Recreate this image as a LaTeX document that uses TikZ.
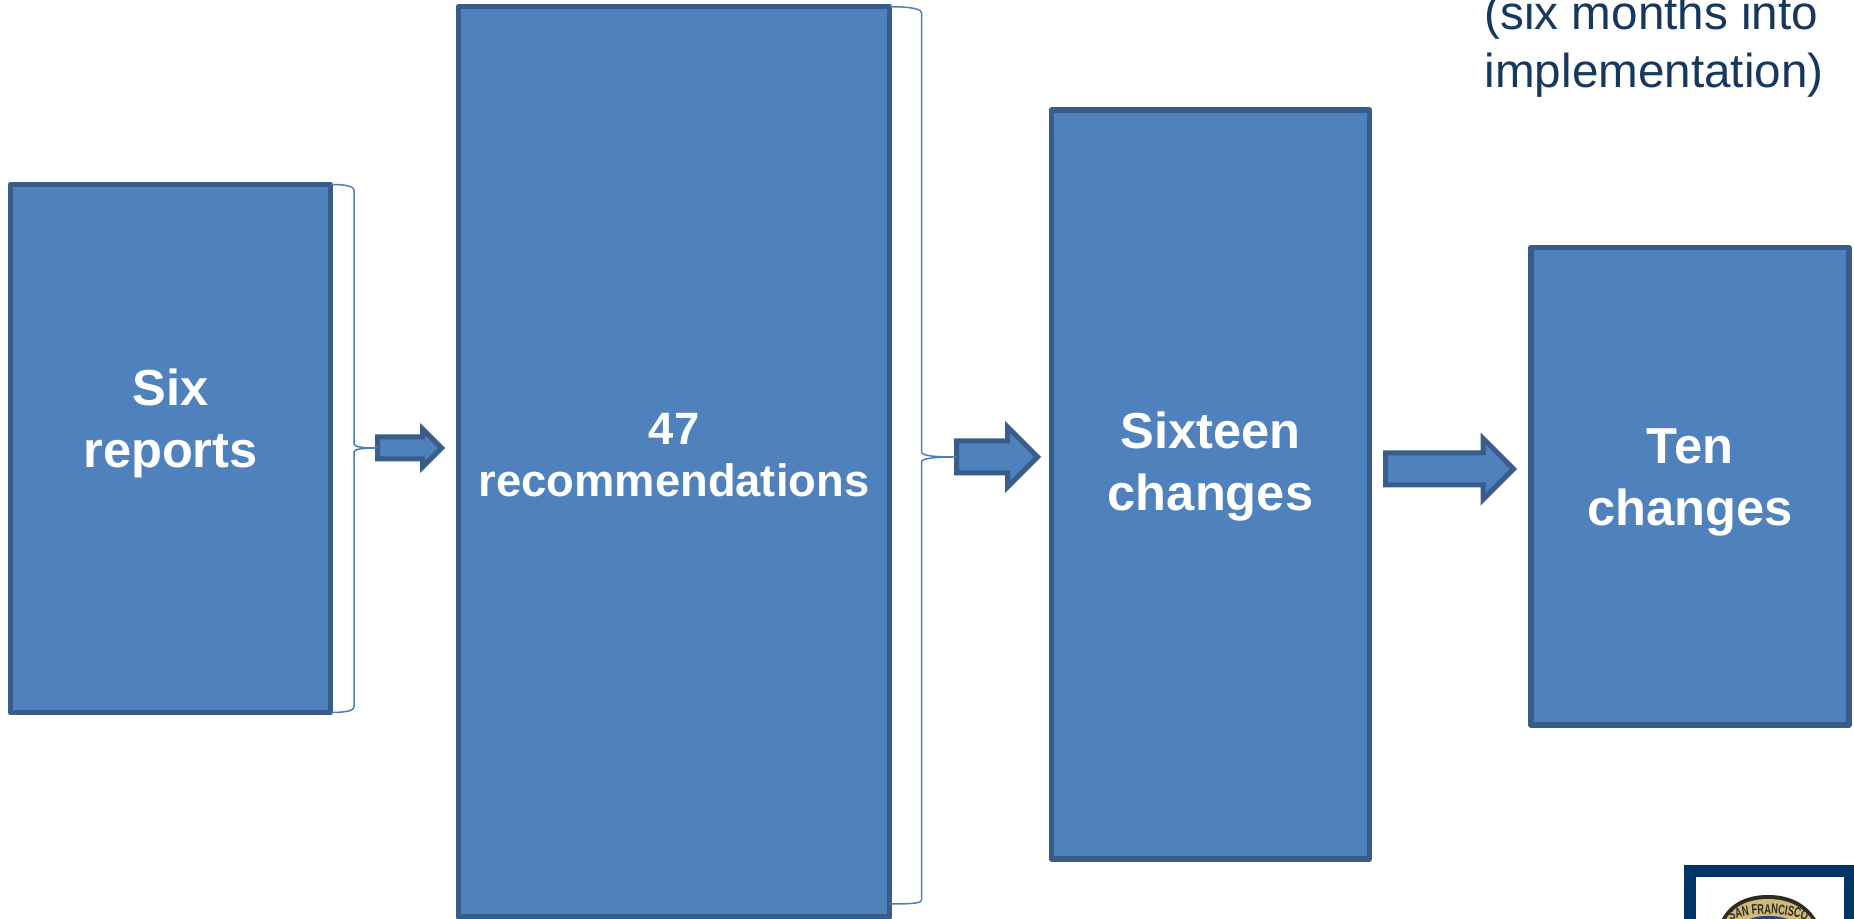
\documentclass[tikz,border=0pt]{standalone}
\usepackage{fontspec}
\setmainfont{Liberation Sans}
\newfontfamily\badgefont[FakeStretch=0.66]{Liberation Sans Bold}
\usetikzlibrary{shapes.arrows, decorations.text}
\definecolor{boxfill}{HTML}{4F81BD}
\definecolor{boxline}{HTML}{385D8A}
\definecolor{bracketline}{HTML}{4A7EBB}
\definecolor{notetext}{HTML}{17375E}
\definecolor{logoframe}{HTML}{003366}
\definecolor{badgedark}{HTML}{2E2B22}
\definecolor{badgetan}{HTML}{CDBB7C}
\definecolor{badgeblue}{HTML}{2F4177}
\tikzstyle{stage} = [rectangle, minimum width=3.18cm, text centered, align=center, inner sep=0pt, outer sep=0pt, draw=boxline, line width=0.55mm, line join=round, fill=boxfill, text=white, font=\fontsize{14.4}{17.6}\selectfont\bfseries]
\tikzstyle{blockarrow} = [single arrow, single arrow tip angle=90, anchor=west, inner xsep=0pt, outer sep=0pt, draw=boxline, line width=0.5mm, fill=boxfill]
\tikzstyle{bracket} = [draw=bracketline, line width=0.15mm]

\begin{document}
\begin{tikzpicture}[node distance=5cm]
\clip (0,0) rectangle (18.54,9.19);

%% NODES

\node (reports) [stage, minimum width=3.2cm, minimum height=5.28cm] at (1.705,4.705) {Six\\reports\\[-0.015cm]\mbox{}};
\node (recs) [stage, minimum width=4.31cm, minimum height=9.105cm, font=\fontsize{12.9}{17.3}\selectfont\bfseries, right of=reports, node distance=5.035cm, yshift=-0.135cm] {47\\[-0.09cm]recommendations\\[-0.47cm]\mbox{}};
\node (sixteen) [stage, minimum height=7.49cm, right of=recs, node distance=5.365cm, yshift=-0.225cm] {Sixteen\\changes\\[-0.15cm]\mbox{}};
\node (ten) [stage, minimum height=4.775cm, right of=sixteen, node distance=4.795cm, yshift=-0.02cm] {Ten\\changes\\[-0.435cm]\mbox{}};

\node (arrowa) [blockarrow, minimum height=0.64cm, inner ysep=0.085cm, single arrow head extend=0.08cm] at (3.775,4.71) {};
\node (arrowb) [blockarrow, minimum height=0.81cm, inner ysep=0.135cm, single arrow head extend=0.14cm] at (9.565,4.62) {};
\node (arrowc) [blockarrow, minimum height=1.28cm, inner ysep=0.135cm, single arrow head extend=0.145cm] at (13.855,4.50) {};

\node (note) [anchor=north west, align=left, inner sep=0pt, text=notetext, font=\fontsize{13.55}{16.5}\selectfont] at (14.84,9.25) {(six months into\\implementation)};

\node (logo) [rectangle, minimum width=1.6cm, minimum height=0.96cm, draw=logoframe, line width=1.2mm, fill=white] at (17.7,0) {};

%% BRACKETS

\coordinate (brackeTa) at ([xshift=0.235cm]reports.east);
\coordinate (brackeTb) at ([xshift=0.32cm]recs.east);
\coordinate (tipa) at (brackeTa |- arrowa.west);
\coordinate (tipb) at (brackeTb |- arrowb.west);

\draw [bracket] (reports.north east) .. controls +(0.2,0) and +(0,0.03) .. ++(0.235,-0.06) -- ([yshift=0.04cm]tipa) .. controls +(0,-0.03) and +(-0.14,0) .. (arrowa.west) .. controls +(-0.14,0) and +(0,0.03) .. ([yshift=-0.04cm]tipa) -- ([yshift=0.06cm]brackeTa |- reports.south) .. controls +(0,-0.03) and +(0.2,0) .. (reports.south east);
\draw [bracket] (recs.north east) .. controls +(0.25,0) and +(0,0.03) .. ++(0.32,-0.06) -- ([yshift=0.05cm]tipb) .. controls +(0,-0.04) and +(-0.2,0) .. (arrowb.west) .. controls +(-0.2,0) and +(0,0.04) .. ([yshift=-0.05cm]tipb) -- (brackeTb |- 0,0.19) .. controls +(0,-0.03) and +(0.25,0) .. (8.895,0.15);

%% BADGE

\fill [badgedark] (17.21,-0.02) .. controls (17.27,0.12) and (17.42,0.24) .. (17.68,0.24) .. controls (17.94,0.24) and (18.09,0.12) .. (18.17,-0.02) -- cycle;
\fill [badgetan] (17.25,-0.02) .. controls (17.31,0.1) and (17.45,0.2) .. (17.68,0.2) .. controls (17.91,0.2) and (18.05,0.1) .. (18.13,-0.02) -- cycle;
\fill [badgeblue] (17.46,-0.02) .. controls (17.52,0.02) and (17.6,0.03) .. (17.68,0.03) .. controls (17.76,0.03) and (17.84,0.02) .. (17.92,-0.02) -- cycle;
\path [decorate, decoration={text along path, text align=center, text={|\badgefont\fontsize{4}{5}\selectfont\color{badgedark}|SAN FRANCISCO}}] (17.29,-0.02) .. controls (17.4,0.03) and (17.55,0.05) .. (17.68,0.05) .. controls (17.81,0.05) and (17.96,0.03) .. (18.08,-0.02);

\end{tikzpicture}
\end{document}
